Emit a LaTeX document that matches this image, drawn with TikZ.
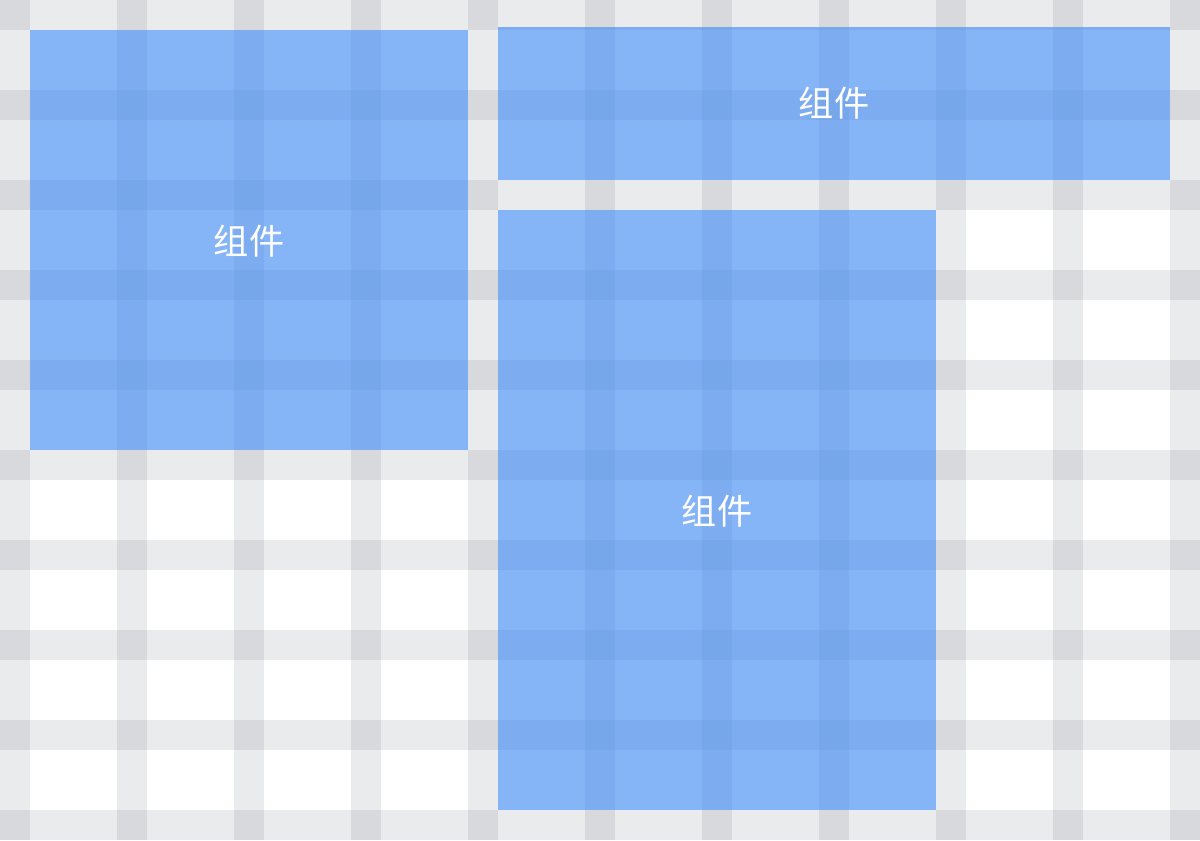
\documentclass[tikz,border=0pt]{standalone}
\usepackage{fontspec}
\newfontfamily\cjk{Noto Sans CJK SC}
\usepackage{tikz}
\usetikzlibrary{calc}

\definecolor{compblue}{RGB}{68,141,243}
\definecolor{gutter}{RGB}{51,61,82}

\tikzset{
    comp/.style={fill=compblue, fill opacity=0.65},
    stripe/.style={fill=gutter, opacity=0.1},
    comptext/.style={text=white, font=\cjk\fontsize{20}{24}\selectfont, inner sep=0pt}
}

\begin{document}
\begin{tikzpicture}[x=0.02cm, y=-0.02cm]
        \useasboundingbox (0,0) rectangle (1200,840);
        \fill[white] (0,0) rectangle (1200,840);

        % gutters
        \foreach \i in {0,...,10}
            \fill[stripe] (\i*117,0) rectangle +(30,840);
        \foreach \j in {0,...,9}
            \fill[stripe] (0,\j*90) rectangle +(1200,30);

        % components
        \fill[comp] (30,30) rectangle (468,450);
        \fill[comp] (498,27) rectangle (1170,180);
        \fill[comp] (498,210) rectangle (936,810);

        \node[comptext] (compA) at (249,241){组件};
        \node[comptext] (compB) at (834,103){组件};
        \node[comptext] (compC) at (717,511){组件};

        \end{tikzpicture}
\end{document}
